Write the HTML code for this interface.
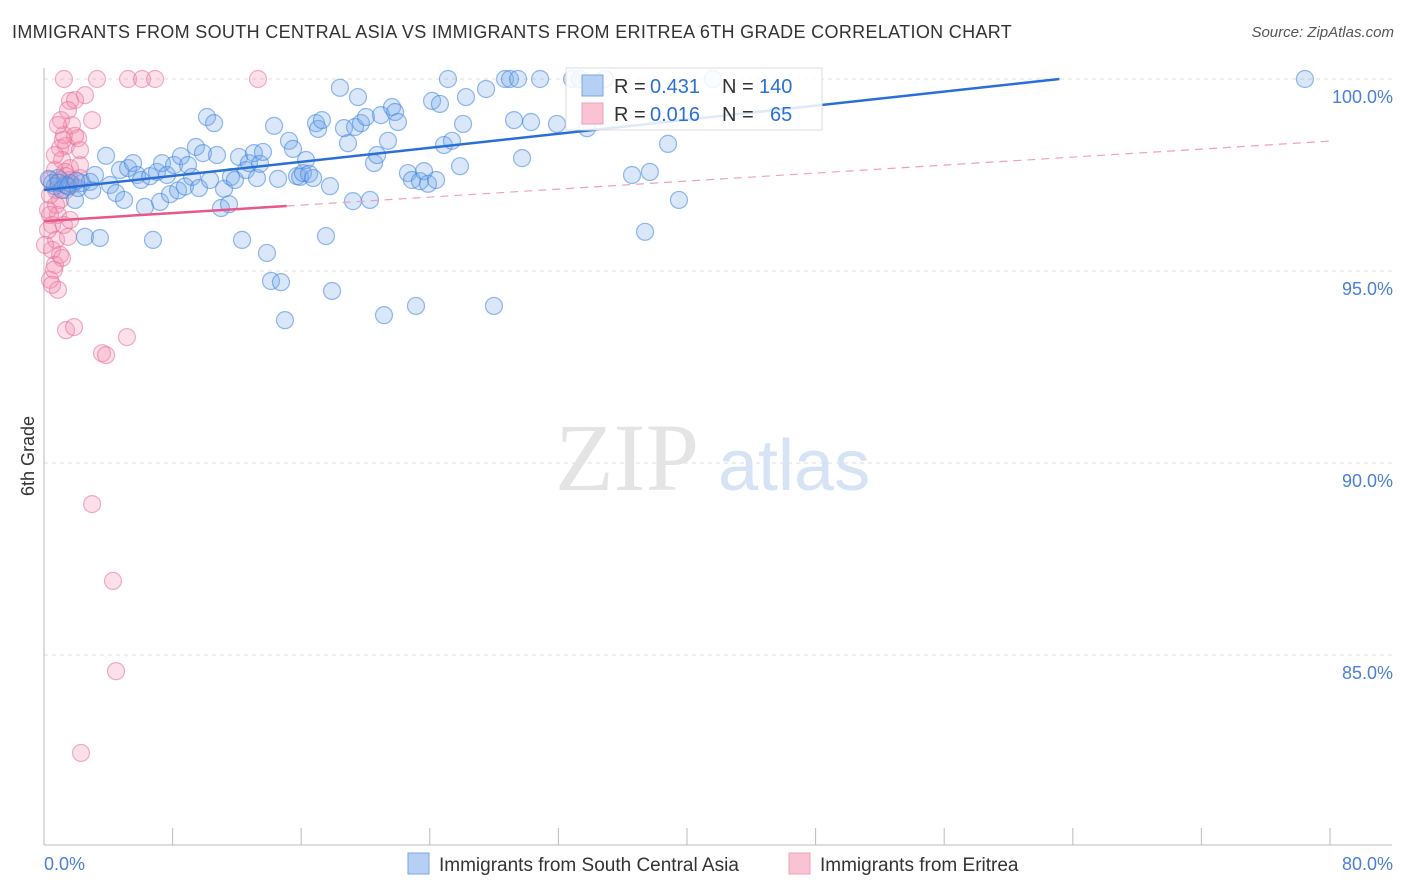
<!DOCTYPE html>
<html><head><meta charset="utf-8"><style>
body{margin:0;background:#fff;font-family:"Liberation Sans",sans-serif;}
#wrap{position:relative;width:1406px;height:892px;overflow:hidden;}
.t{position:absolute;white-space:nowrap;}
</style></head><body>
<div id="wrap">
<div class="t" style="left:12px;top:22px;font-size:18px;letter-spacing:0.33px;color:#333;">IMMIGRANTS FROM SOUTH CENTRAL ASIA VS IMMIGRANTS FROM ERITREA 6TH GRADE CORRELATION CHART</div>
<div class="t" style="right:12px;top:24px;font-size:15px;color:#555;font-style:italic;">Source: ZipAtlas.com</div>
<svg id="svg" width="1406" height="892" style="position:absolute;left:0;top:0"></svg>
</div>
<script>
const blueX=[0.5,0.68,0.87,1.12,1.37,1.62,1.93,2.12,2.36,2.55,2.86,3.17,3.48,3.86,4.11,4.48,4.73,4.98,5.23,5.54,5.79,6.03,6.28,6.6,6.78,7.03,7.22,7.34,7.65,7.84,8.09,8.34,8.52,8.77,8.96,9.21,9.45,9.64,9.89,10.14,10.33,10.58,10.76,11.01,11.2,11.51,11.63,11.88,12.13,12.32,12.57,12.75,13.06,13.25,13.44,13.62,13.87,14.12,14.31,14.56,14.74,14.99,15.24,15.49,15.74,15.93,16.11,16.3,16.49,16.74,16.92,17.05,17.29,17.54,17.79,17.92,18.41,18.66,18.91,19.22,19.35,19.53,19.72,20.03,20.28,20.53,20.72,20.96,21.15,21.4,21.65,21.84,22.02,22.64,22.89,23.14,23.39,23.64,23.89,24.14,24.39,24.63,24.88,25.13,25.38,25.88,26.07,26.25,27.5,27.99,28.68,28.99,29.24,29.49,29.74,30.3,30.86,31.91,32.85,33.34,33.78,34.9,36.58,37.39,37.69,38.82,39.5,41.61,78.44,0.3,0.9,1.5,2.0,3.0];
const blueY=[97.29,97.21,97.42,97.11,97.24,97.29,96.85,97.16,97.29,95.89,97.32,97.5,95.86,98.0,97.24,97.03,97.63,96.85,97.68,97.81,97.5,97.37,96.67,97.47,95.81,97.58,96.8,97.81,97.5,97.0,97.76,97.1,97.99,97.2,97.76,97.45,98.23,97.16,98.07,99.01,97.37,98.85,98.02,96.64,97.14,96.74,97.45,97.37,97.97,95.81,97.63,97.81,98.07,97.42,97.79,98.1,95.47,94.74,98.78,97.4,94.71,93.72,98.39,98.18,97.47,97.45,97.55,97.89,97.53,97.42,98.85,98.7,98.93,95.91,97.21,94.48,99.77,98.72,98.33,96.82,98.75,99.53,98.85,99.01,96.85,97.81,98.02,99.06,93.85,98.39,99.27,99.14,98.88,97.55,97.37,94.09,97.34,97.6,97.27,99.43,97.37,99.35,98.28,100,98.39,97.73,98.83,99.53,99.74,94.09,100,100,98.93,100,97.94,98.88,100,98.83,100,100,98.72,100,97.5,96.02,97.58,98.31,96.85,100,100,97.4,97.3,97.2,97.35,97.1];
const pinkX=[1.24,3.3,5.23,6.1,6.91,13.31,1.62,2.55,1.06,1.74,1.24,2.12,2.99,1.0,1.37,1.93,1.12,1.62,2.24,0.68,1.31,1.74,0.37,0.75,1.0,0.25,0.87,0.5,1.24,0.75,1.49,0.5,1.0,0.68,1.12,0.37,0.87,1.37,1.87,5.16,3.61,3.86,2.99,4.29,4.48,2.3,1.62,2.24,1.37,0.75,0.37,0.25,0.62,0.06,0.37,1.0,0.68,1.93,1.49,2.24,0.87,1.18,0.5,1.62,1.37];
const pinkY=[100,100,100,100,100,100,99.43,99.58,98.93,98.8,98.54,98.46,98.93,98.2,98.26,98.52,97.89,97.68,97.76,97.63,97.58,97.24,97.37,97.11,96.85,96.59,96.46,96.2,96.2,95.81,95.89,95.55,95.42,95.16,95.34,94.77,94.51,93.46,93.54,93.28,92.86,92.81,88.93,86.93,84.58,82.45,97.37,97.42,97.11,96.72,96.98,96.07,95.03,95.68,96.46,97.37,98.02,99.45,99.19,98.15,98.8,98.41,94.64,96.33,97.47];
const blueTrend=[97.11,0.04575];
const pinkTrend=[96.30,0.02604];
const xTicks=[0,8,16,24,32,40,48,56,64,72,80];
const yTicks=[100,95,90,85];
const NS="http://www.w3.org/2000/svg";
const svg=document.getElementById('svg');
const X=v=>44+v*16.075, Y=v=>79+(100-v)*38.4;
function mk(tag,a,parent){const e=document.createElementNS(NS,tag);for(const k in a)e.setAttribute(k,a[k]);(parent||svg).appendChild(e);return e;}
yTicks.forEach(t=>{const l=mk('line',{x1:44,x2:1392,y1:Y(t),y2:Y(t),stroke:'#dcdcdc','stroke-dasharray':'4,4'});


const tx=mk('text',{x:1393,y:Y(t)+24,'text-anchor':'end','font-size':18,fill:'#4a7fd4','font-family':'Liberation Sans'});tx.textContent=t.toFixed(1)+'%';

});
const ax=mk('line',{x1:44,x2:44,y1:68,y2:845,stroke:'#bbb'});


const axx=mk('line',{x1:44,x2:1392,y1:845,y2:845,stroke:'#bbb'});


xTicks.forEach(t=>{const l=mk('line',{x1:X(t),x2:X(t),y1:828,y2:845,stroke:'#bbb'});

});
[[0,'start',44],[80,'end',1393]].forEach(([t,a,x])=>{const tx=mk('text',{x:x,y:870,'text-anchor':a,'font-size':18,fill:'#4a7fd4','font-family':'Liberation Sans'});tx.textContent=t.toFixed(1)+'%';

});
const yt=mk('text',{x:34,y:456,'text-anchor':'middle','font-size':18,fill:'#333',transform:'rotate(-90 34 456)','font-family':'Liberation Sans'});yt.textContent='6th Grade';


const wm=mk('text',{x:555,y:490,'font-size':96,fill:'#e4e4e4','font-family':'Liberation Serif'});wm.textContent='ZIP';


const wm2=mk('text',{x:718,y:490,'font-size':72,fill:'#d6e3f5','font-family':'Liberation Sans'});wm2.textContent='atlas';


pinkX.forEach((v,i)=>{const c=mk('circle',{cx:X(v),cy:Y(pinkY[i]),r:8.5,fill:'rgba(244,143,177,0.28)',stroke:'rgba(232,110,150,0.55)','stroke-width':1.2});

});
blueX.forEach((v,i)=>{const c=mk('circle',{cx:X(v),cy:Y(blueY[i]),r:8.5,fill:'rgba(120,170,235,0.28)',stroke:'rgba(60,130,220,0.55)','stroke-width':1.2});

});
const bxEnd=Math.min(80,(100-blueTrend[0])/blueTrend[1]);
const bl=mk('line',{x1:X(0),y1:Y(blueTrend[0]),x2:X(bxEnd),y2:Y(blueTrend[0]+blueTrend[1]*bxEnd),stroke:'#2a6fd6','stroke-width':2.5});


const pl=mk('line',{x1:X(0),y1:Y(pinkTrend[0]),x2:X(15.1),y2:Y(pinkTrend[0]+pinkTrend[1]*15.1),stroke:'#e8578a','stroke-width':2.5});


const pd=mk('line',{x1:X(15.1),y1:Y(pinkTrend[0]+pinkTrend[1]*15.1),x2:X(80),y2:Y(pinkTrend[0]+pinkTrend[1]*80),stroke:'#f0a0bc','stroke-width':1.2,'stroke-dasharray':'8,6'});


const g=mk('g',{});


mk('rect',{x:566,y:68,width:256,height:62,fill:'rgba(255,255,255,0.85)',stroke:'#ddd'},g);
mk('rect',{x:582,y:75,width:21,height:21,fill:'#b5d0f3',stroke:'#7aa6e6'},g);
mk('rect',{x:582,y:103,width:21,height:21,fill:'#f9c3d4',stroke:'#eea0b8'},g);
[['R = ',614,93,'#333'],['0.431',650,93,'#2a6fd6'],['N = ',722,93,'#333'],['140',759,93,'#2a6fd6'],
 ['R = ',614,121,'#333'],['0.016',650,121,'#2a6fd6'],['N = ',722,121,'#333'],['65',770,121,'#2a6fd6']].forEach(([s,x,y,c])=>{
 const tx=mk('text',{x:x,y:y,'font-size':20,fill:c,'font-family':'Liberation Sans'},g);tx.textContent=s;
 
 });
[['#b5d0f3','#7aa6e6',408,'Immigrants from South Central Asia','legend-south-central-asia'],['#f9c3d4','#eea0b8',789,'Immigrants from Eritrea','legend-eritrea']].forEach(([f,s,x,t,n])=>{
 const gg=mk('g',{});
 
 
 mk('rect',{x:x,y:853,width:21,height:21,fill:f,stroke:s},gg);
 const tx=mk('text',{x:x+31,y:871,'font-size':19,fill:'#333','font-family':'Liberation Sans'},gg);tx.textContent=t;});
</script>
</body></html>
